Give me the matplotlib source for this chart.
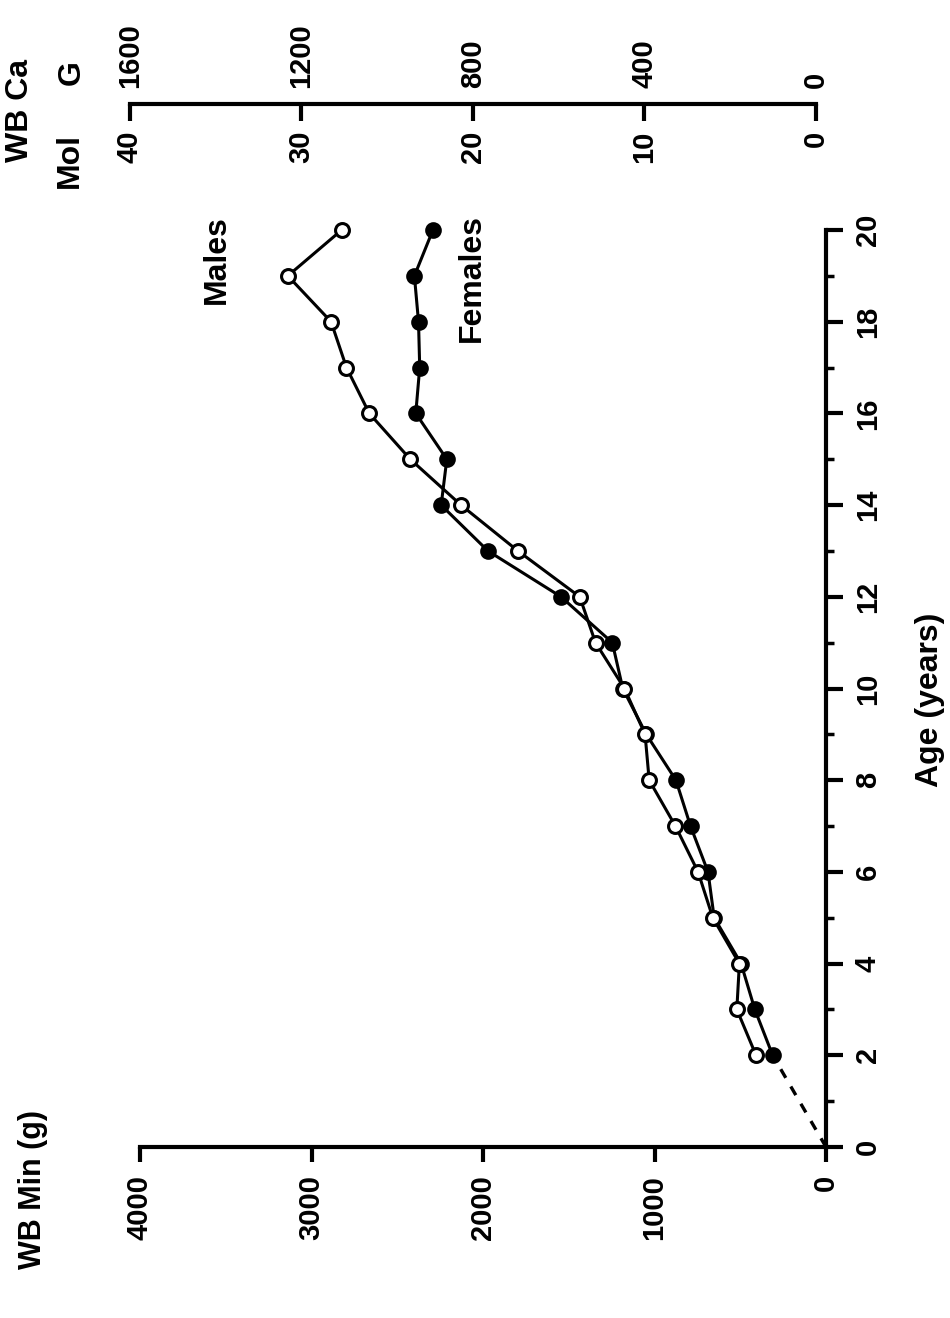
import matplotlib
matplotlib.use("Agg")
import matplotlib.pyplot as plt
from matplotlib.ticker import MultipleLocator

ages = [2, 3, 4, 5, 6, 7, 8, 9, 10, 11, 12, 13, 14, 15, 16, 17, 18, 19, 20]
males_wb = [408, 520, 505, 660, 746, 878, 1031, 1055, 1175, 1344, 1436, 1796,
            2128, 2424, 2663, 2796, 2886, 3138, 2824]
females_wb = [311, 415, 495, 652, 688, 790, 875, 1048, 1185, 1246, 1545, 1971,
              2244, 2211, 2392, 2369, 2376, 2400, 2292]
extrap_age = [0, 2]          # dashed extrapolation to the origin
extrap_wb = [0, 311]

wb_ticks = [0, 1000, 2000, 3000, 4000]
age_ticks = [0, 2, 4, 6, 8, 10, 12, 14, 16, 18, 20]
mol_ticks = [0, 10, 20, 30, 40]
g_ticks = [0, 400, 800, 1200, 1600]

plt.rcParams["font.family"] = ["Liberation Sans", "DejaVu Sans"]
plt.rcParams["font.weight"] = "bold"

W, H = 950, 1318
def fx(px): return px / W
def fy(py): return 1 - py / H

fig = plt.figure(figsize=(9.5, 13.18), dpi=100)

# main axes: WB mineral runs right->left along the bottom, age runs up the right side
ax = fig.add_axes([fx(140), fy(1147), (826 - 140) / W, (1147 - 230) / H])
ax.set_xlim(4000, 0); ax.set_ylim(0, 20)
for s in ("left", "top"):
    ax.spines[s].set_visible(False)
for s in ("bottom", "right"):
    ax.spines[s].set_linewidth(3)
ax.yaxis.tick_right()
ax.set_xticks(wb_ticks)
ax.set_xticklabels([str(v) for v in wb_ticks], rotation=90)
ax.set_yticks(age_ticks)
ax.set_yticklabels([str(v) for v in age_ticks], rotation=90, va="center")
ax.yaxis.set_minor_locator(MultipleLocator(1))
ax.tick_params(axis="x", direction="out", length=11, width=3, pad=9, labelsize=21)
ax.tick_params(axis="y", which="major", direction="out", length=12, width=3, pad=8, labelsize=21)
ax.tick_params(axis="y", which="minor", direction="out", length=6, width=2.5)

ax.plot(extrap_wb, extrap_age, ls=(0, (3, 3)), c="k", lw=2.4, clip_on=False)
ax.plot(females_wb, ages, "-o", c="k", lw=2.2, ms=10, mfc="k", mec="k", mew=2,
        clip_on=False, zorder=3)
ax.plot(males_wb, ages, "-o", c="k", lw=2.2, ms=10, mfc="white", mec="k", mew=2.2,
        clip_on=False, zorder=4)

# calcium scale across the top (moles below, grams above)
ax2 = fig.add_axes([fx(130), fy(104), (816 - 130) / W, 0.0005])
ax2.set_xlim(40, 0)
ax2.patch.set_visible(False)
for s in ("left", "right", "top"):
    ax2.spines[s].set_visible(False)
ax2.spines["bottom"].set_linewidth(3)
ax2.set_yticks([])
ax2.set_xticks(mol_ticks)
ax2.set_xticklabels([str(v) for v in mol_ticks], rotation=90)
ax2.tick_params(axis="x", direction="out", length=12, width=3, pad=7, labelsize=21)

ax3 = ax2.twiny()
ax3.set_xlim(1600, 0)
for s in ax3.spines.values():
    s.set_visible(False)
ax3.set_xticks(g_ticks)
ax3.set_xticklabels([str(v) for v in g_ticks], rotation=90)
ax3.tick_params(axis="x", length=0, pad=11, labelsize=21)

# labels
kw = dict(rotation=90, ha="center", fontsize=23, fontweight="bold")
fig.text(fx(20), fy(110), "WB Ca", va="center", **kw)
fig.text(fx(72), fy(73), "G", va="center", **kw)
fig.text(fx(70), fy(161), "Mol", va="center", **kw)
fig.text(fx(33), fy(1110), "WB Min (g)", va="top", rotation=90, ha="center",
         fontsize=22, fontweight="bold")
fig.text(fx(217), fy(260), "Males", va="center", **kw)
fig.text(fx(472), fy(278), "Females", va="center", **kw)
fig.text(fx(930), fy(700), "Age (years)", va="center", **kw)

fig.savefig("out.png", dpi=100)
